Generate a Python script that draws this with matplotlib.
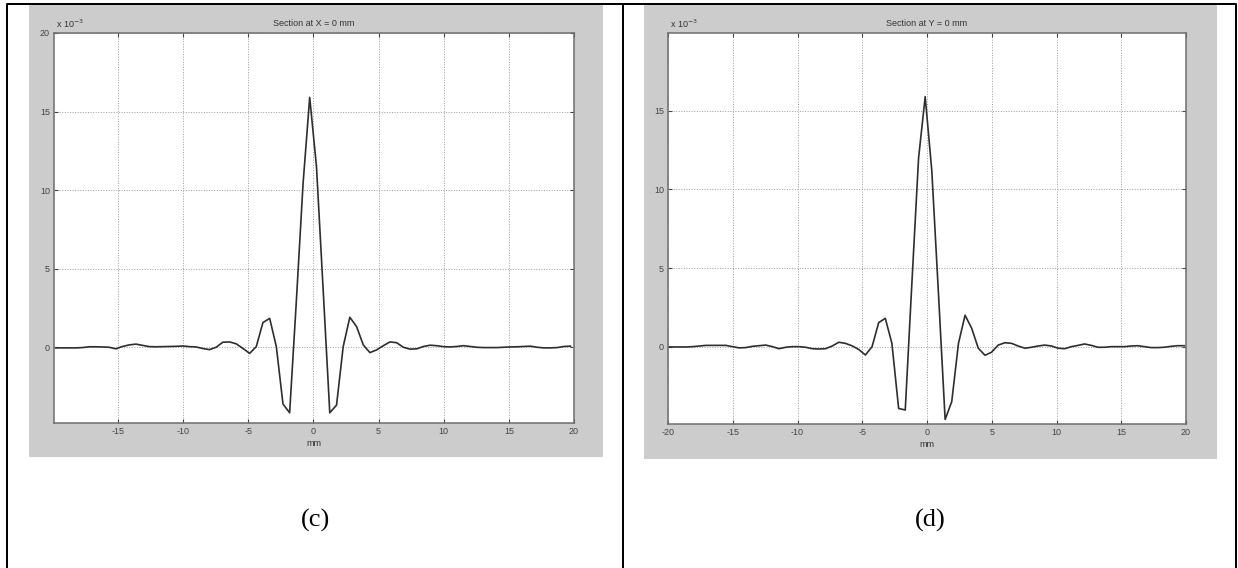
import matplotlib
matplotlib.use("Agg")
import matplotlib.pyplot as plt
from matplotlib.patches import Rectangle
from matplotlib.lines import Line2D

# Figure size in pixels (dpi 100)
W, H = 1238, 568

# Panel (c): section at X = 0 mm, values in units of 1e-3
x_c = [-19.77, -19.26, -18.74, -18.23, -17.72, -17.21, -16.69, -16.18, -15.67, -15.15,
       -14.64, -14.13, -13.61, -13.10, -12.59, -12.08, -11.56, -11.05, -10.54, -10.02,
       -9.51, -9.00, -8.48, -7.97, -7.46, -6.95, -6.43, -5.92, -5.41, -4.89,
       -4.38, -3.87, -3.35, -2.84, -2.33, -1.82, -1.30, -0.79, -0.28, 0.24,
       0.75, 1.26, 1.78, 2.29, 2.80, 3.32, 3.83, 4.34, 4.85, 5.37,
       5.88, 6.39, 6.91, 7.42, 7.93, 8.45, 8.96, 9.47, 9.98, 10.50,
       11.01, 11.52, 12.04, 12.55, 13.06, 13.58, 14.09, 14.60, 15.11, 15.63,
       16.14, 16.65, 17.17, 17.68, 18.19, 18.71, 19.22, 19.73]
y_c = [-0.04, -0.04, -0.04, -0.04, -0.02, 0.03, 0.03, 0.02, 0.00, -0.10,
       0.05, 0.15, 0.20, 0.12, 0.04, 0.03, 0.04, 0.05, 0.06, 0.08,
       0.04, 0.02, -0.08, -0.15, 0.00, 0.32, 0.34, 0.22, -0.07, -0.39,
       0.04, 1.57, 1.84, 0.04, -3.61, -4.17, 3.00, 10.40, 15.90, 11.50,
       3.70, -4.17, -3.68, 0.04, 1.91, 1.31, 0.15, -0.34, -0.17, 0.10,
       0.34, 0.29, 0.00, -0.12, -0.10, 0.05, 0.13, 0.10, 0.04, 0.02,
       0.05, 0.10, 0.05, 0.00, -0.02, -0.02, -0.02, 0.00, 0.02, 0.03,
       0.05, 0.07, 0.00, -0.04, -0.04, -0.02, 0.05, 0.07]

# Panel (d): section at Y = 0 mm
x_d = [-20.15, -19.63, -19.12, -18.61, -18.10, -17.58, -17.07, -16.56, -16.04, -15.53,
       -15.02, -14.50, -13.99, -13.48, -12.97, -12.45, -11.94, -11.43, -10.91, -10.40,
       -9.89, -9.37, -8.86, -8.35, -7.84, -7.32, -6.81, -6.30, -5.78, -5.27,
       -4.76, -4.24, -3.73, -3.22, -2.71, -2.19, -1.68, -1.17, -0.65, -0.14,
       0.37, 0.89, 1.40, 1.91, 2.43, 2.94, 3.45, 3.96, 4.48, 4.99,
       5.50, 6.02, 6.53, 7.04, 7.56, 8.07, 8.58, 9.09, 9.61, 10.12,
       10.63, 11.15, 11.66, 12.17, 12.69, 13.20, 13.71, 14.22, 14.74, 15.25,
       15.76, 16.28, 16.79, 17.30, 17.82, 18.33, 18.84, 19.35, 19.87]
y_d = [-0.02, -0.02, -0.02, -0.02, 0.00, 0.04, 0.08, 0.08, 0.08, 0.08,
       0.00, -0.08, -0.06, 0.02, 0.06, 0.10, 0.00, -0.13, -0.04, 0.00,
       0.00, -0.04, -0.13, -0.15, -0.13, 0.04, 0.28, 0.21, 0.05, -0.18,
       -0.53, 0.00, 1.53, 1.80, 0.21, -3.93, -4.03, 4.00, 12.00, 15.90,
       11.20, 3.30, -4.63, -3.50, 0.21, 2.00, 1.17, -0.10, -0.55, -0.35,
       0.10, 0.25, 0.21, 0.04, -0.10, -0.04, 0.04, 0.10, 0.04, -0.10,
       -0.13, 0.00, 0.08, 0.17, 0.08, -0.04, -0.04, 0.00, 0.00, 0.00,
       0.04, 0.06, 0.00, -0.06, -0.06, -0.04, 0.02, 0.06, 0.06]

xticks_c = [-15, -10, -5, 0, 5, 10, 15, 20]
xticks_d = [-20, -15, -10, -5, 0, 5, 10, 15, 20]
yticks_c = [0, 5, 10, 15, 20]
yticks_d = [0, 5, 10, 15]

plt.rcParams['font.family'] = ['Liberation Sans', 'DejaVu Sans']
plt.rcParams['axes.unicode_minus'] = False


def px_box(x0, y0, x1, y1):
    """Pixel box (top-left origin) -> figure fraction [left, bottom, w, h]."""
    return [x0 / W, 1 - y1 / H, (x1 - x0) / W, (y1 - y0) / H]


def fig_line(fig, xs, ys, lw=2.0):
    fig.add_artist(Line2D([x / W for x in xs], [1 - y / H for y in ys],
                          transform=fig.transFigure, color='black',
                          linewidth=lw * 0.72, solid_capstyle='projecting'))


def draw_panel(fig, box, x, y, xlim, ylim, xticks, yticks, title):
    ax = fig.add_axes(px_box(*box))
    ax.set_facecolor('white')
    ax.plot(x, y, color='#2e2e2e', linewidth=1.2)
    ax.set_xlim(xlim)
    ax.set_ylim(ylim)
    ax.set_xticks(xticks)
    ax.set_yticks(yticks)
    ax.grid(True, linestyle=':', color='#9a9a9a', linewidth=0.7)
    ax.tick_params(direction='in', length=3, labelsize=6.5, colors='#444444',
                   pad=3, top=True, right=True)
    for s in ax.spines.values():
        s.set_color('#6e6e6e')
        s.set_linewidth(1.1)
    ax.set_title(title, fontsize=6.5, pad=5, color='#333333')
    ax.set_xlabel('mm', fontsize=6.5, labelpad=2, color='#333333')
    ax.text(0.003, 1.008, r'x 10$^{-3}$', transform=ax.transAxes,
            fontsize=6.5, va='bottom', ha='left', color='#333333')
    return ax


fig = plt.figure(figsize=(W / 100, H / 100), dpi=100)
fig.patch.set_facecolor('white')

# grey MATLAB figure backgrounds
for (x0, y0, x1, y1) in [(29, 5, 603, 457), (644, 5, 1217, 459)]:
    fig.add_artist(Rectangle((x0 / W, 1 - y1 / H), (x1 - x0) / W, (y1 - y0) / H,
                             transform=fig.transFigure, facecolor='#cccccc',
                             edgecolor='none', zorder=-1))

draw_panel(fig, (54, 33, 574, 423), x_c, y_c, (-19.9, 20), (-4.82, 20),
           xticks_c, yticks_c, 'Section at X = 0 mm')
draw_panel(fig, (668, 33, 1186, 424), x_d, y_d, (-20, 20), (-4.92, 19.95),
           xticks_d, yticks_d, 'Section at Y = 0 mm')

# table borders (open at the bottom, as in the cropped original)
fig_line(fig, [7, 7, 1236, 1236], [568, 4, 4, 568])
fig_line(fig, [623, 623], [4, 568])

fig.text(316 / W, 1 - 520 / H, '(c)', ha='center', va='center',
         family='Liberation Serif', fontsize=19)
fig.text(930 / W, 1 - 520 / H, '(d)', ha='center', va='center',
         family='Liberation Serif', fontsize=19)

fig.savefig('out.png', dpi=100)
